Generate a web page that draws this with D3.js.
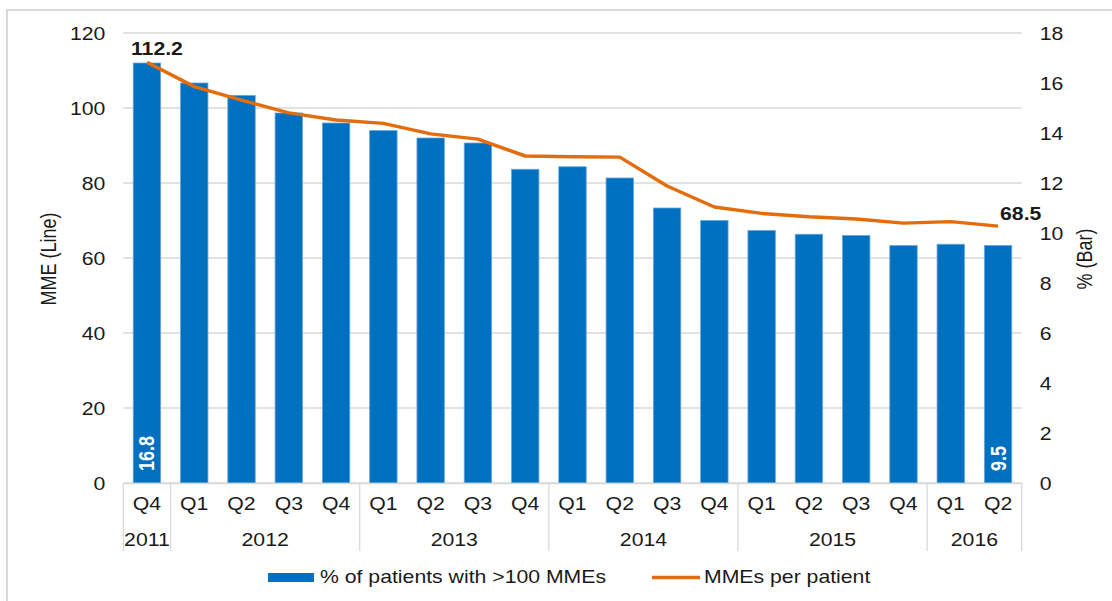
<!DOCTYPE html>
<html>
<head>
<meta charset="utf-8">
<script src="https://cdn.jsdelivr.net/npm/d3@7"></script>
<style>
  body { margin: 0; background: #fff; }
  svg { display: block; font-family: "Liberation Sans", Arial, sans-serif; }
</style>
</head>
<body>
<div id="viz"></div>
<script>
const width = 1112;
const height = 601;
const margin = {top: 33, right: 90, bottom: 118, left: 123.3};
const plotRight = 1021.7;
const stretch = 1.18; // source picture is a bit wider than tall

// Data
const quarters = ['Q4', 'Q1', 'Q2', 'Q3', 'Q4', 'Q1', 'Q2', 'Q3', 'Q4', 'Q1', 'Q2', 'Q3', 'Q4', 'Q1', 'Q2', 'Q3', 'Q4', 'Q1', 'Q2'];
const years = ['2011', '2012', '2012', '2012', '2012', '2013', '2013', '2013', '2013', '2014', '2014', '2014', '2014', '2015', '2015', '2015', '2015', '2016', '2016'];
const pctPatients = [16.8, 16.0, 15.5, 14.8, 14.4, 14.1, 13.8, 13.6, 12.55, 12.65, 12.2, 11.0, 10.5, 10.1, 9.95, 9.9, 9.5, 9.55, 9.5];
const mmePerPatient = [112.2, 105.7, 102.1, 98.7, 96.8, 95.9, 93.1, 91.7, 87.2, 87.0, 86.9, 79.2, 73.6, 71.9, 71.0, 70.4, 69.3, 69.7, 68.5];
const leftTicks = [0, 20, 40, 60, 80, 100, 120];
const rightTicks = [0, 2, 4, 6, 8, 10, 12, 14, 16, 18];

const data = quarters.map((q, i) => ({
  id: i, quarter: q, year: years[i], pct: pctPatients[i], mme: mmePerPatient[i]
}));

const blue = '#0070C0';
const orange = '#E46C0A';
const grid = '#d9d9d9';
const textColor = '#1a1a1a';

const svg = d3.select('#viz')
  .append('svg')
    .attr('width', width)
    .attr('height', height);

// outer frame
svg.append('rect')
    .attr('x', 7)
    .attr('y', 10)
    .attr('width', 1200)
    .attr('height', 700)
    .attr('fill', 'none')
    .attr('stroke', grid)
    .attr('stroke-width', 2);

// Scales
const scaleX = d3.scaleBand()
  .domain(data.map(d => d.id))
  .range([margin.left, plotRight])
  .paddingInner(0.42)
  .paddingOuter(0.21);

const y0 = height - margin.bottom; // 483
const scaleYLeft = d3.scaleLinear()
  .domain([0, 120])
  .range([y0, margin.top]);

const scaleYRight = d3.scaleLinear()
  .domain([0, 18])
  .range([y0, margin.top]);

// Gridlines
svg.append('g')
    .attr('class', 'grid')
  .selectAll('line')
  .data(leftTicks)
  .join('line')
    .attr('x1', margin.left)
    .attr('x2', plotRight)
    .attr('y1', d => scaleYLeft(d))
    .attr('y2', d => scaleYLeft(d))
    .attr('stroke', grid)
    .attr('stroke-width', 1.3);

// Left axis
const axisLeft = d3.axisLeft(scaleYLeft)
  .tickValues(leftTicks)
  .tickSize(0)
  .tickSizeOuter(0);
const yAxisLeft = svg.append('g')
    .attr('transform', `translate(${margin.left},0)`)
    .call(axisLeft);
yAxisLeft.select('.domain').remove();
yAxisLeft.selectAll('text')
    .attr('x', 0)
    .attr('dy', '0.35em')
    .attr('transform', `translate(-18,0) scale(${stretch},1)`)
    .style('font-size', '18px')
    .attr('fill', textColor);

// Right axis
const axisRight = d3.axisRight(scaleYRight)
  .tickValues(rightTicks)
  .tickSize(0)
  .tickSizeOuter(0);
const yAxisRight = svg.append('g')
    .attr('transform', `translate(${plotRight},0)`)
    .call(axisRight);
yAxisRight.select('.domain').remove();
yAxisRight.selectAll('text')
    .attr('x', 0)
    .attr('dy', '0.35em')
    .attr('transform', `translate(18,0) scale(${stretch},1)`)
    .style('font-size', '18px')
    .attr('fill', textColor);

// Axis titles
svg.append('text')
    .attr('transform', `translate(48,259) scale(${stretch},1) rotate(-90)`)
    .attr('text-anchor', 'middle')
    .attr('dominant-baseline', 'central')
    .style('font-size', '18px')
    .attr('fill', textColor)
    .text('MME (Line)');
svg.append('text')
    .attr('transform', `translate(1084,259) scale(${stretch},1) rotate(-90)`)
    .attr('text-anchor', 'middle')
    .attr('dominant-baseline', 'central')
    .style('font-size', '18px')
    .attr('fill', textColor)
    .text('% (Bar)');

// Bars
svg.append('g')
    .attr('class', 'bars')
  .selectAll('rect')
  .data(data)
  .join('rect')
    .attr('x', d => scaleX(d.id))
    .attr('y', d => scaleYRight(d.pct))
    .attr('width', scaleX.bandwidth())
    .attr('height', d => y0 - scaleYRight(d.pct))
    .attr('fill', blue)
    .attr('stroke', '#6aa6dc')
    .attr('stroke-width', 0.8);

// Bar labels (first and last)
const cx = d => scaleX(d.id) + scaleX.bandwidth() / 2;
const firstLast = [data[0], data[data.length - 1]];
svg.append('g')
  .selectAll('text')
  .data(firstLast)
  .join('text')
    .attr('transform', d => `translate(${cx(d)},471) scale(${stretch},1) rotate(-90)`)
    .attr('text-anchor', 'start')
    .attr('dominant-baseline', 'central')
    .style('font-size', '18px')
    .style('font-weight', 700)
    .attr('fill', '#fff')
    .text(d => d3.format('.1f')(d.pct));

// X axis (zero line + quarter labels)
const axisBottom = d3.axisBottom(scaleX)
  .tickFormat(i => quarters[i])
  .tickSize(0)
  .tickSizeOuter(0);
const xAxis = svg.append('g')
    .attr('transform', `translate(0,${y0})`)
    .call(axisBottom);
xAxis.select('.domain')
    .attr('stroke', grid)
    .attr('stroke-width', 1.3);
xAxis.selectAll('text')
    .attr('y', 0)
    .attr('dy', 0)
    .attr('transform', `translate(0,27) scale(${stretch},1)`)
    .style('font-size', '18px')
    .attr('fill', textColor);

// Year groups
const yearGroups = d3.groups(data, d => d.year).map(([year, items]) => ({
  year,
  start: scaleX.step() * 0 + scaleX(items[0].id) - scaleX.step() * scaleX.paddingInner() / 2,
  end: scaleX(items[items.length - 1].id) + scaleX.bandwidth() + scaleX.step() * scaleX.paddingInner() / 2
}));

const separators = [margin.left, ...yearGroups.map(g => g.end)];
separators[separators.length - 1] = plotRight;
svg.append('g')
  .selectAll('line')
  .data(separators)
  .join('line')
    .attr('x1', d => d)
    .attr('x2', d => d)
    .attr('y1', y0)
    .attr('y2', 551)
    .attr('stroke', grid)
    .attr('stroke-width', 1.3);

svg.append('g')
  .selectAll('text')
  .data(yearGroups)
  .join('text')
    .attr('transform', d => `translate(${(d.start + d.end) / 2},546) scale(${stretch},1)`)
    .attr('text-anchor', 'middle')
    .style('font-size', '18px')
    .attr('fill', textColor)
    .text(d => d.year);

// Line
const line = d3.line()
  .x(d => cx(d))
  .y(d => scaleYLeft(d.mme));
svg.append('path')
    .datum(data)
    .attr('d', line)
    .attr('fill', 'none')
    .attr('stroke', orange)
    .attr('stroke-width', 3.5)
    .attr('stroke-linejoin', 'round');

// Line labels
const firstPt = data[0];
const lastPt = data[data.length - 1];
svg.append('text')
    .attr('transform', `translate(${cx(firstPt) + 10},${scaleYLeft(firstPt.mme) - 7}) scale(${stretch},1)`)
    .attr('text-anchor', 'middle')
    .style('font-size', '18px')
    .style('font-weight', 700)
    .attr('fill', textColor)
    .text(d3.format('.1f')(firstPt.mme));
svg.append('text')
    .attr('transform', `translate(${cx(lastPt) + 2},${scaleYLeft(lastPt.mme) - 6.5}) scale(${stretch},1)`)
    .attr('text-anchor', 'start')
    .style('font-size', '18px')
    .style('font-weight', 700)
    .attr('fill', textColor)
    .text(d3.format('.1f')(lastPt.mme));

// Legend
const legend = svg.append('g').attr('class', 'legend');
legend.append('rect')
    .attr('x', 268)
    .attr('y', 573)
    .attr('width', 46)
    .attr('height', 9)
    .attr('fill', blue);
legend.append('text')
    .attr('transform', `translate(320,583) scale(${stretch},1)`)
    .style('font-size', '18px')
    .attr('fill', textColor)
    .text('% of patients with >100 MMEs');
legend.append('line')
    .attr('x1', 652)
    .attr('x2', 700)
    .attr('y1', 577.5)
    .attr('y2', 577.5)
    .attr('stroke', orange)
    .attr('stroke-width', 3.5);
legend.append('text')
    .attr('transform', `translate(704,583) scale(${stretch},1)`)
    .style('font-size', '18px')
    .attr('fill', textColor)
    .text('MMEs per patient');
</script>
</body>
</html>
